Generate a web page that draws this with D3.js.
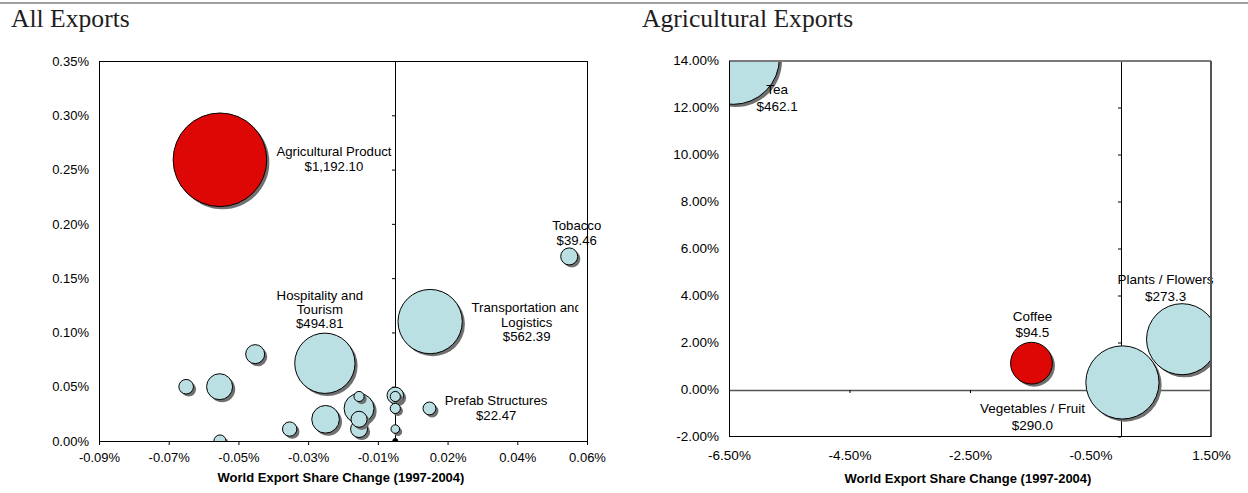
<!DOCTYPE html>
<html><head><meta charset="utf-8">
<script src="https://cdn.jsdelivr.net/npm/d3@7"></script>
<style>body{margin:0;background:#fff}svg{display:block}</style>
</head><body>
<svg id="c" width="1248" height="493"></svg>
<script>
// ---------- DATA : All Exports ----------
const allNames = ["Agricultural Product", "Transportation and\nLogistics", "Hospitality and\nTourism", "Tobacco", "Prefab Structures",
  "", "", "", "", "", "", "", "", "", "", "", "", "", "", ""];
const allShareChange = [-0.0503, 0.0100, -0.0202, 0.0499, 0.0098,
  -0.0600, -0.0504, -0.0402, -0.0303, -0.0200, -0.0104, -0.0104, -0.0104, -0.0104, 0.0000, 0.0000, 0.0000, 0.0000, 0.0000, -0.0503];
const allShare2004 = [0.259, 0.110, 0.0716, 0.170, 0.030,
  0.050, 0.050, 0.080, 0.011, 0.020, 0.030, 0.041, 0.020, 0.011, 0.042, 0.041, 0.030, 0.011, 0.000, 0.000];
const allExportValue = [1192.10, 562.39, 494.81, 39.46, 22.47,
  29, 92, 49, 28, 104, 122, 14, 35, 39, 37, 14, 14, 10, 3.4, 20];
const allHighlight = ["Agricultural Product"];
const allDarkIndex = [18];
const allXTickValues = [-0.085, -0.065, -0.045, -0.025, -0.005, 0.015, 0.035, 0.055];
const allXTickLabels = ["-0.09%", "-0.07%", "-0.05%", "-0.03%", "-0.01%", "0.02%", "0.04%", "0.06%"];
const allYTickValues = [0, 0.05, 0.10, 0.15, 0.20, 0.25, 0.30, 0.35];
const allYTickLabels = ["0.00%", "0.05%", "0.10%", "0.15%", "0.20%", "0.25%", "0.30%", "0.35%"];

// ---------- DATA : Agricultural Exports ----------
const agNames = ["Tea", "Vegetables / Fruit", "Plants / Flowers", "Coffee"];
const agShareChange = [-6.43, 0.03, 1.02, -1.48];
const agShare2004 = [14.1, 0.30, 2.14, 1.12];
const agExportValue = [462.1, 290.0, 273.3, 94.5];
const agHighlight = ["Coffee"];
const agXTickValues = [-6.5, -4.5, -2.5, -0.5, 1.5];
const agXTickLabels = ["-6.50%", "-4.50%", "-2.50%", "-0.50%", "1.50%"];
const agYTickValues = [-2, 0, 2, 4, 6, 8, 10, 12, 14];
const agYTickLabels = ["-2.00%", "0.00%", "2.00%", "4.00%", "6.00%", "8.00%", "10.00%", "12.00%", "14.00%"];

const axisTitle = "World Export Share Change (1997-2004)";

// ---------- DRAWING ----------
const svg = d3.select("#c");
const SANS = "'Liberation Sans', Arial, Helvetica, sans-serif";
const BLUE = "#BBE0E3", RED = "#DD0806";

const defs = svg.append("defs");
defs.append("filter").attr("id", "soft").attr("x", "-20%").attr("y", "-20%").attr("width", "140%").attr("height", "140%")
  .append("feGaussianBlur").attr("stdDeviation", 0.6);

svg.append("line").attr("x1", 0).attr("x2", 1248).attr("y1", 3).attr("y2", 3)
  .attr("stroke", "#a0a0a0").attr("stroke-width", 2);

function drawChart(c) {
  const x = d3.scaleLinear().domain(c.xDomain).range([c.left, c.right]);
  const y = d3.scaleLinear().domain(c.yDomain).range([c.bottom, c.top]);
  const r = d3.scaleSqrt().domain([0, d3.max(c.values)]).range([0, c.rMax]);
  const g = svg.append("g").attr("font-family", SANS);

  svg.append("text").attr("x", c.titleX).attr("y", 26.5)
    .attr("font-family", "'Liberation Serif', 'Times New Roman', serif").attr("font-size", 25.6)
    .attr("fill", "#1e1e1e").text(c.title);

  // vertical axis through x = 0 (ticks pointing left)
  const ya = g.append("g").attr("transform", `translate(${Math.round(x(0))},0)`)
    .call(d3.axisLeft(y).tickValues(c.yTicks).tickSize(3).tickSizeOuter(0).tickFormat(""));
  ya.selectAll("path,line").attr("stroke", "#000");

  // horizontal axis through y = 0 (ticks pointing down)
  const xa = g.append("g").attr("transform", `translate(0,${Math.round(y(0))})`)
    .call(d3.axisBottom(x).tickValues(c.xTicks).tickSize(c.xTickLen).tickSizeOuter(0).tickFormat(""));
  xa.select(".domain").attr("stroke", c.zeroLineColor).attr("stroke-width", c.zeroLineWidth);
  xa.selectAll(".tick line").attr("stroke", "#000");

  // tick labels
  const yl = g.append("g").attr("transform", `translate(${c.left},0)`)
    .call(d3.axisLeft(y).tickValues(c.yTicks).tickSize(0).tickPadding(10)
      .tickFormat((d, i) => c.yTickLabels[i]));
  yl.select(".domain").remove();
  yl.selectAll("text").attr("font-size", c.tickFont).attr("font-family", SANS).attr("fill", "#000");

  const xl = g.append("g").attr("transform", `translate(0,${c.bottom})`)
    .call(d3.axisBottom(x).tickValues(c.xTicks).tickSize(0).tickPadding(c.xLabelPad)
      .tickFormat((d, i) => c.xTickLabels[i]));
  xl.select(".domain").remove();
  xl.selectAll("text").attr("font-size", c.tickFont).attr("font-family", SANS).attr("fill", "#000");

  // bubbles
  const clipId = "clip-" + c.id;
  defs.append("clipPath").attr("id", clipId).append("rect")
    .attr("x", c.left).attr("y", c.top).attr("width", c.right - c.left).attr("height", c.bottom - c.top);
  const pts = c.values.map((v, i) => ({
    name: c.names[i], x: c.xs[i], y: c.ys[i], v: v,
    fill: c.highlight.includes(c.names[i]) ? RED : (c.dark.includes(i) ? "#000" : BLUE)
  })).sort((a, b) => b.v - a.v);
  const bg = g.append("g").attr("clip-path", `url(#${clipId})`);
  pts.forEach(p => {
    const cx = x(p.x), cy = y(p.y), rr = r(p.v);
    bg.append("circle").attr("cx", cx + 2.6).attr("cy", cy + 2.6).attr("r", rr)
      .attr("fill", "#6f6f6f").attr("filter", "url(#soft)");
    bg.append("circle").attr("cx", cx).attr("cy", cy).attr("r", rr)
      .attr("fill", p.fill).attr("stroke", "#000").attr("stroke-width", 1);
  });

  // data labels
  pts.filter(p => p.name).forEach(p => {
    const pl = c.placement[p.name];
    const lines = p.name.split("\n").concat(["$" + c.valueFormat(p.v)]);
    let lg = g.append("g");
    if (pl.clipRight) {
      const lid = "lclip-" + c.id + "-" + Math.round(pl.clipRight);
      defs.append("clipPath").attr("id", lid).append("rect")
        .attr("x", 0).attr("y", 0).attr("width", pl.clipRight).attr("height", 493);
      lg.attr("clip-path", `url(#${lid})`);
    }
    lines.forEach((t, k) => {
      lg.append("text").attr("x", x(p.x) + pl.dx).attr("y", y(p.y) + pl.dy + k * c.lineH)
        .attr("text-anchor", "middle").attr("font-size", c.labelFont).attr("fill", "#000").text(t);
    });
  });

  // plot border (drawn on top)
  const b = g.append("g").attr("shape-rendering", "crispEdges");
  const L = c.left, R = c.right, T = c.top, B = c.bottom;
  b.append("line").attr("x1", L).attr("x2", R).attr("y1", T).attr("y2", T).attr("stroke", c.topColor).attr("stroke-width", c.topWidth);
  b.append("line").attr("x1", R).attr("x2", R).attr("y1", T).attr("y2", B).attr("stroke", c.rightColor).attr("stroke-width", c.rightWidth);
  b.append("line").attr("x1", L).attr("x2", L).attr("y1", T).attr("y2", B).attr("stroke", "#000").attr("stroke-width", 1);
  b.append("line").attr("x1", L).attr("x2", R).attr("y1", B).attr("y2", B).attr("stroke", "#000").attr("stroke-width", 1);

  // axis title
  g.append("text").attr("x", (L + R) / 2 - 2).attr("y", c.axisTitleY).attr("text-anchor", "middle")
    .attr("font-size", 13).attr("font-weight", "bold").attr("fill", "#000").text(axisTitle);
}

drawChart({
  id: "all", title: "All Exports", titleX: 11,
  left: 99, right: 587, top: 61, bottom: 441,
  xDomain: [-0.085, 0.055], yDomain: [0, 0.35],
  xTicks: allXTickValues, xTickLabels: allXTickLabels, yTicks: allYTickValues, yTickLabels: allYTickLabels,
  names: allNames, xs: allShareChange, ys: allShare2004, values: allExportValue,
  highlight: allHighlight, dark: allDarkIndex,
  rMax: 46.8, valueFormat: d3.format(",.2f"),
  tickFont: 13, labelFont: 13.2, lineH: 14.3, xTickLen: 4, xLabelPad: 11.8,
  zeroLineColor: "#000", zeroLineWidth: 1,
  topColor: "#000", topWidth: 1, rightColor: "#000", rightWidth: 1,
  axisTitleY: 481.5,
  placement: {
    "Agricultural Product": {dx: 114, dy: -3.4},
    "Transportation and\nLogistics": {dx: 96.5, dy: -9.2, clipRight: 578.5},
    "Hospitality and\nTourism": {dx: -5, dy: -63.7},
    "Tobacco": {dx: 7.5, dy: -26.1},
    "Prefab Structures": {dx: 66.7, dy: -3}
  }
});

drawChart({
  id: "ag", title: "Agricultural Exports", titleX: 642,
  left: 729, right: 1211, top: 60.5, bottom: 436.5,
  xDomain: [-6.5, 1.5], yDomain: [-2, 14],
  xTicks: agXTickValues, xTickLabels: agXTickLabels, yTicks: agYTickValues, yTickLabels: agYTickLabels,
  names: agNames, xs: agShareChange, ys: agShare2004, values: agExportValue,
  highlight: agHighlight, dark: [],
  rMax: 46.2, valueFormat: d3.format(",.1f"),
  tickFont: 13.5, labelFont: 13.5, lineH: 16.8, xTickLen: 3, xLabelPad: 13.6,
  zeroLineColor: "#555", zeroLineWidth: 1.5,
  topColor: "#7a7a7a", topWidth: 2, rightColor: "#555", rightWidth: 1.5,
  axisTitleY: 483,
  placement: {
    "Tea": {dx: 44, dy: 36},
    "Coffee": {dx: 1, dy: -42.6},
    "Vegetables / Fruit": {dx: -90, dy: 30.3},
    "Plants / Flowers": {dx: -16.5, dy: -55.5}
  }
});
</script>
</body></html>
